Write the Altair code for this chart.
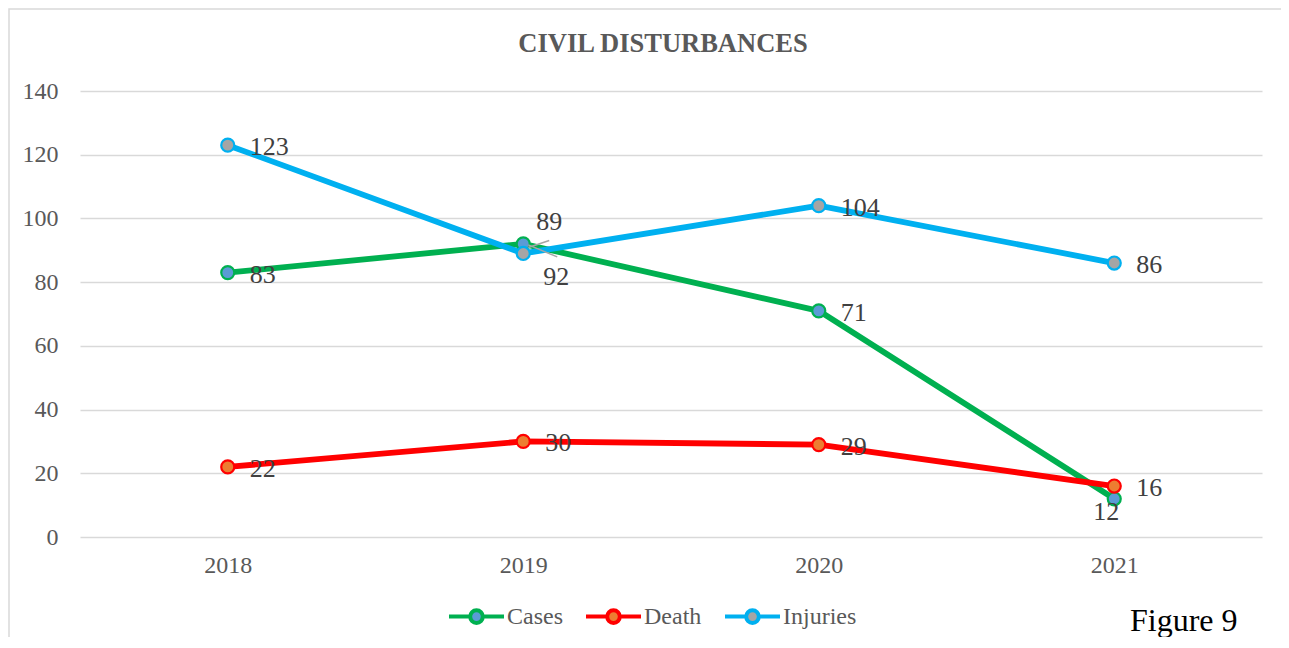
import altair as alt
import pandas as pd

years = ["2018", "2019", "2020", "2021"]
series_names = ["Cases", "Death", "Injuries"]
cases = [83, 92, 71, 12]
death = [22, 30, 29, 16]
injuries = [123, 89, 104, 86]

line_colors = ["#00B050", "#FF0000", "#00B0F0"]
marker_fills = ["#5B9BD5", "#ED7D31", "#A5A5A5"]

rows = []
for name, vals in zip(series_names, [cases, death, injuries]):
    for y, v in zip(years, vals):
        rows.append({"year": y, "series": name, "value": v})
df = pd.DataFrame(rows)

FONT = "Liberation Serif"

x_scale = alt.Scale(type="point", padding=0.5)
x_enc = alt.X("year:O", scale=x_scale, axis=alt.Axis(
    title=None, labelAngle=0, ticks=False, domain=False, grid=False,
    labelFont=FONT, labelFontSize=24, labelColor="#595959", labelPadding=16))
y_enc = alt.Y("value:Q", scale=alt.Scale(domain=[0, 140], nice=False), axis=alt.Axis(
    title=None, values=list(range(0, 141, 20)), ticks=False, domain=False,
    labelFont=FONT, labelFontSize=24, labelColor="#595959", labelPadding=22,
    gridColor="#D9D9D9", gridWidth=1.5))

legend_path = ("M-1,0L-0.23,0M0.23,0L1,0M0.23,0A0.23,0.23,0,1,1,-0.23,0"
               "A0.23,0.23,0,1,1,0.23,0Z")
leg = alt.Legend(title=None, orient="none", direction="horizontal",
                 legendX=367, legendY=496, symbolType=legend_path,
                 symbolSize=3025, symbolStrokeWidth=4, labelFont=FONT,
                 labelFontSize=24, labelColor="#595959", labelOffset=1,
                 columnPadding=15, symbolOpacity=1)

stroke_scale = alt.Scale(domain=series_names, range=line_colors)
fill_scale = alt.Scale(domain=series_names, range=marker_fills)

base = alt.Chart(df)

lines = base.mark_line(strokeWidth=5.8, strokeJoin="round", strokeCap="round").encode(
    x=x_enc, y=y_enc,
    stroke=alt.Stroke("series:N", scale=stroke_scale, legend=leg),
    order=alt.Order("year:O"),
)

points = base.mark_point(filled=True, size=170, strokeWidth=2.2, opacity=1).encode(
    x=alt.X("year:O", scale=x_scale), y="value:Q",
    fill=alt.Fill("series:N", scale=fill_scale, legend=leg),
    stroke=alt.Stroke("series:N", scale=stroke_scale, legend=leg),
)

special = "(datum.series=='Cases' && (datum.year=='2019' || datum.year=='2021')) || (datum.series=='Injuries' && datum.year=='2019')"

text_props = dict(font=FONT, fontSize=26, color="#404040")
xs = alt.X("year:O", scale=x_scale)

labels_default = base.transform_filter("!(" + special + ")").mark_text(
    align="left", baseline="middle", dx=22, dy=2, **text_props).encode(
    x=xs, y="value:Q", text="value:Q")

label_92 = base.transform_filter("datum.series=='Cases' && datum.year=='2019'").mark_text(
    align="left", baseline="middle", dx=20, dy=33, **text_props).encode(
    x=xs, y="value:Q", text="value:Q")

label_89 = base.transform_filter("datum.series=='Injuries' && datum.year=='2019'").mark_text(
    align="left", baseline="middle", dx=13, dy=-31, **text_props).encode(
    x=xs, y="value:Q", text="value:Q")

label_12 = base.transform_filter("datum.series=='Cases' && datum.year=='2021'").mark_text(
    align="center", baseline="middle", dx=-8, dy=13, **text_props).encode(
    x=xs, y="value:Q", text="value:Q")

leader_89 = base.transform_filter("datum.series=='Injuries' && datum.year=='2019'").mark_rule(
    color="#A6A6A6", strokeWidth=1.5, xOffset=5, yOffset=-6, x2Offset=26, y2Offset=-13).encode(
    x=xs, y="value:Q", x2="year:O", y2="value:Q")

leader_92 = base.transform_filter("datum.series=='Cases' && datum.year=='2019'").mark_rule(
    color="#A6A6A6", strokeWidth=1.5, xOffset=5, yOffset=1, x2Offset=34, y2Offset=13).encode(
    x=xs, y="value:Q", x2="year:O", y2="value:Q")

title_df = pd.DataFrame({"t": ["CIVIL DISTURBANCES"]})
title_text = alt.Chart(title_df).mark_text(
    font=FONT, fontSize=26.5, fontWeight="bold", color="#595959", align="center",
    baseline="alphabetic").encode(x=alt.value(583), y=alt.value(-39), text="t:N")

fig_df = pd.DataFrame({"t": ["Figure 9"]})
fig_text = alt.Chart(fig_df).mark_text(
    font=FONT, fontSize=32, color="#000000", align="left", baseline="alphabetic").encode(
    x=alt.value(1050), y=alt.value(540), text="t:N")

border = alt.Chart(fig_df).mark_rect(fill=None, stroke="#D9D9D9", strokeWidth=1.5).encode(
    x=alt.value(-71), y=alt.value(-82), x2=alt.value(1260), y2=alt.value(600))

chart = alt.layer(
    border, lines, points, leader_89, leader_92,
    labels_default, label_92, label_89, label_12, title_text, fig_text
).resolve_scale(stroke="shared", fill="shared").properties(
    width=1182, height=446,
    autosize=alt.AutoSizeParams(type="none"),
    padding={"left": 72, "top": 83, "right": 19, "bottom": 100},
).configure_view(stroke=None)

chart.save("out.html", embed_options={"renderer": "svg", "actions": False})
